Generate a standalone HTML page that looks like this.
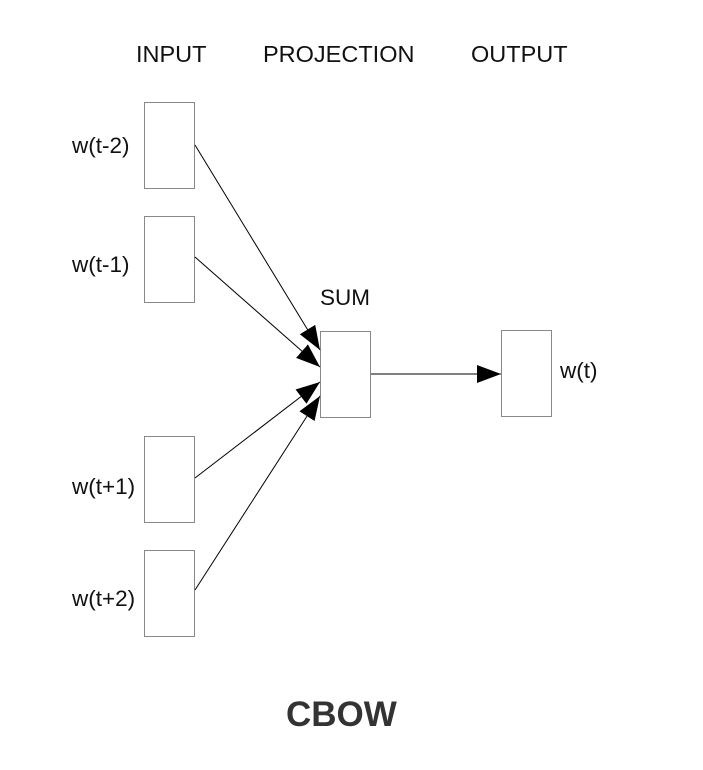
<!DOCTYPE html>
<html><head><style>body{margin:0;background:#fff}svg{display:block}</style></head>
<body>
<svg width="703" height="770" viewBox="0 0 703 770" xmlns="http://www.w3.org/2000/svg" font-family="Liberation Sans, sans-serif">
<defs><marker id="a" markerWidth="24" markerHeight="18" refX="24" refY="9" orient="auto" markerUnits="userSpaceOnUse"><path d="M0,0 L24,9 L0,18 Z" fill="#000"/></marker></defs>
<g font-size="23.5" fill="#111">
<text x="136" y="62">INPUT</text>
<text x="263" y="62">PROJECTION</text>
<text x="471" y="62">OUTPUT</text>
<text x="320" y="305" font-size="22.5">SUM</text>
<text x="72" y="153" font-size="22.5">w(t-2)</text>
<text x="72" y="272" font-size="22.5">w(t-1)</text>
<text x="72" y="494" font-size="22.5">w(t+1)</text>
<text x="72" y="606" font-size="22.5">w(t+2)</text>
<text x="560" y="378" font-size="22.5">w(t)</text>
</g>
<text x="286" y="726" font-size="35" font-weight="bold" fill="#333">CBOW</text>
<g fill="#fff" stroke="#888" stroke-width="1">
<rect x="144.5" y="102.5" width="50" height="86"/>
<rect x="144.5" y="216.5" width="50" height="86"/>
<rect x="144.5" y="436.5" width="50" height="86"/>
<rect x="144.5" y="550.5" width="50" height="86"/>
<rect x="320.5" y="331.5" width="50" height="86"/>
<rect x="501.5" y="330.5" width="50" height="86"/>
</g>
<g stroke="#000" stroke-width="1" marker-end="url(#a)">
<line x1="195" y1="145" x2="320" y2="350"/>
<line x1="195" y1="257" x2="320" y2="367"/>
<line x1="195" y1="478" x2="320" y2="382"/>
<line x1="195" y1="590" x2="320" y2="396"/>
<line x1="371" y1="374" x2="501" y2="374"/>
</g>
</svg>
</body></html>
